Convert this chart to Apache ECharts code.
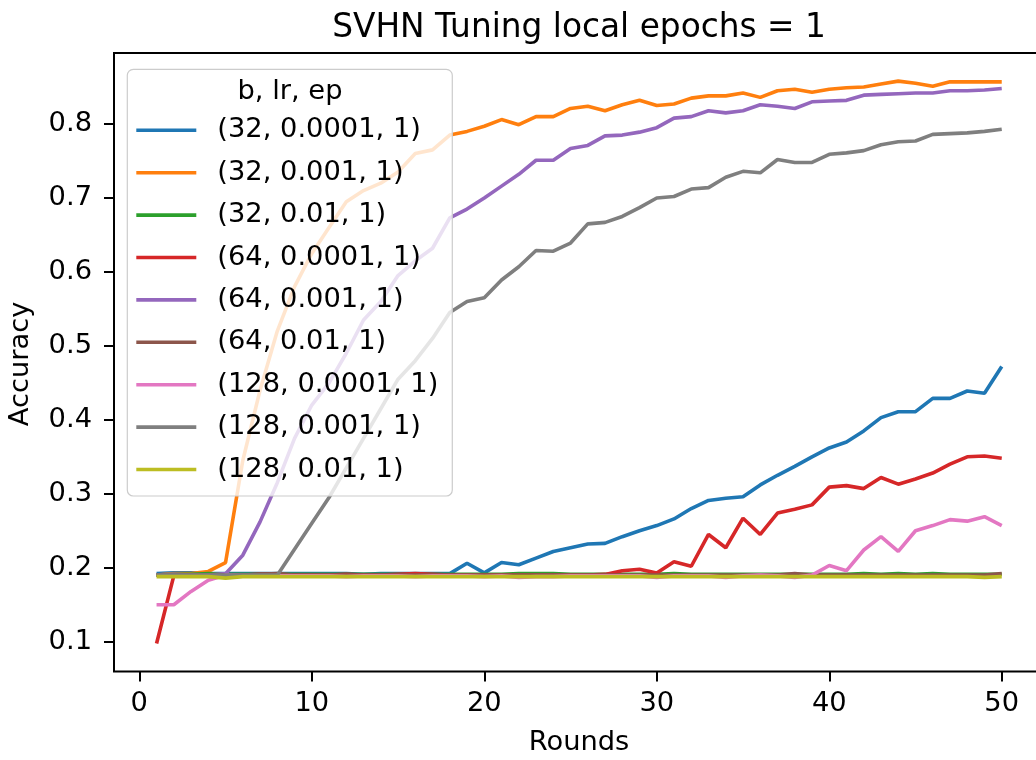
<!DOCTYPE html>
<html>
<head>
<meta charset="utf-8">
<title>SVHN Tuning local epochs = 1</title>
<script src="https://cdn.jsdelivr.net/npm/echarts@6/dist/echarts.min.js"></script>
<style>
  html, body { margin: 0; padding: 0; background: #ffffff; }
  #chart { width: 1036px; height: 760px; }
</style>
</head>
<body>
<div id="chart"></div>
<script>
// Communication rounds on the x axis
const rounds = [1, 2, 3, 4, 5, 6, 7, 8, 9, 10, 11, 12, 13, 14, 15, 16, 17, 18, 19, 20,
  21, 22, 23, 24, 25, 26, 27, 28, 29, 30, 31, 32, 33, 34, 35, 36, 37, 38, 39, 40,
  41, 42, 43, 44, 45, 46, 47, 48, 49, 50];

// Test accuracy per configuration (batch size, learning rate, local epochs)
const acc_32_00001 = [0.192, 0.193, 0.193, 0.192, 0.192, 0.192, 0.192, 0.192, 0.192, 0.192,
  0.192, 0.192, 0.191, 0.192, 0.192, 0.192, 0.192, 0.192, 0.206, 0.193,
  0.207, 0.204, 0.213, 0.222, 0.227, 0.232, 0.233, 0.242, 0.250, 0.257,
  0.266, 0.280, 0.291, 0.294, 0.296, 0.312, 0.325, 0.337, 0.350, 0.362,
  0.370, 0.385, 0.403, 0.411, 0.411, 0.429, 0.429, 0.439, 0.436, 0.472];
const acc_32_0001 = [0.190, 0.192, 0.192, 0.195, 0.207, 0.345, 0.440, 0.520, 0.580, 0.625,
  0.660, 0.695, 0.710, 0.720, 0.735, 0.760, 0.765, 0.785, 0.790, 0.797,
  0.806, 0.799, 0.810, 0.810, 0.821, 0.824, 0.818, 0.826, 0.832, 0.825,
  0.827, 0.835, 0.838, 0.838, 0.842, 0.836, 0.845, 0.847, 0.843, 0.847,
  0.849, 0.850, 0.854, 0.858, 0.855, 0.851, 0.857, 0.857, 0.857, 0.857];
const acc_32_001 = [0.190, 0.191, 0.191, 0.192, 0.191, 0.191, 0.191, 0.191, 0.191, 0.191,
  0.191, 0.191, 0.191, 0.191, 0.191, 0.191, 0.191, 0.191, 0.191, 0.191,
  0.191, 0.192, 0.192, 0.192, 0.191, 0.191, 0.191, 0.191, 0.191, 0.191,
  0.192, 0.191, 0.191, 0.191, 0.191, 0.191, 0.191, 0.191, 0.191, 0.191,
  0.191, 0.192, 0.191, 0.192, 0.191, 0.192, 0.191, 0.191, 0.191, 0.191];
const acc_64_00001 = [0.0975, 0.189, 0.190, 0.190, 0.190, 0.190, 0.191, 0.191, 0.190, 0.190,
  0.190, 0.191, 0.190, 0.190, 0.191, 0.192, 0.191, 0.190, 0.190, 0.190,
  0.190, 0.190, 0.190, 0.190, 0.190, 0.190, 0.191, 0.196, 0.198, 0.193,
  0.208, 0.202, 0.245, 0.227, 0.267, 0.245, 0.274, 0.279, 0.285, 0.309,
  0.311, 0.307, 0.322, 0.313, 0.320, 0.328, 0.340, 0.350, 0.351, 0.348];
const acc_64_0001 = [0.190, 0.191, 0.190, 0.190, 0.192, 0.217, 0.262, 0.315, 0.375, 0.420,
  0.450, 0.490, 0.535, 0.560, 0.595, 0.615, 0.632, 0.673, 0.685, 0.700,
  0.716, 0.732, 0.751, 0.751, 0.767, 0.771, 0.784, 0.785, 0.789, 0.795,
  0.808, 0.810, 0.818, 0.815, 0.818, 0.826, 0.824, 0.821, 0.830, 0.831,
  0.832, 0.839, 0.840, 0.841, 0.842, 0.842, 0.845, 0.845, 0.846, 0.848];
const acc_64_001 = [0.190, 0.190, 0.190, 0.190, 0.190, 0.190, 0.191, 0.192, 0.190, 0.190,
  0.190, 0.190, 0.190, 0.190, 0.190, 0.190, 0.190, 0.190, 0.190, 0.190,
  0.190, 0.190, 0.190, 0.190, 0.190, 0.190, 0.190, 0.190, 0.190, 0.190,
  0.190, 0.190, 0.190, 0.190, 0.190, 0.190, 0.190, 0.192, 0.190, 0.190,
  0.190, 0.190, 0.190, 0.190, 0.190, 0.190, 0.190, 0.190, 0.190, 0.192];
const acc_128_00001 = [0.150, 0.150, 0.168, 0.183, 0.190, 0.189, 0.189, 0.189, 0.189, 0.189,
  0.189, 0.188, 0.189, 0.189, 0.189, 0.188, 0.189, 0.189, 0.189, 0.188,
  0.189, 0.187, 0.188, 0.188, 0.189, 0.189, 0.189, 0.189, 0.189, 0.187,
  0.189, 0.189, 0.189, 0.187, 0.189, 0.190, 0.189, 0.187, 0.190, 0.203,
  0.196, 0.224, 0.242, 0.222, 0.250, 0.257, 0.265, 0.263, 0.269, 0.257];
const acc_128_0001 = [0.190, 0.190, 0.190, 0.190, 0.190, 0.190, 0.190, 0.190, 0.225, 0.260,
  0.295, 0.335, 0.375, 0.415, 0.455, 0.480, 0.510, 0.545, 0.560, 0.565,
  0.589, 0.607, 0.629, 0.628, 0.639, 0.665, 0.667, 0.675, 0.687, 0.700,
  0.702, 0.712, 0.714, 0.728, 0.736, 0.734, 0.752, 0.748, 0.748, 0.759,
  0.761, 0.764, 0.772, 0.776, 0.777, 0.786, 0.787, 0.788, 0.790, 0.793];
const acc_128_001 = [0.188, 0.188, 0.188, 0.188, 0.186, 0.188, 0.188, 0.188, 0.188, 0.188,
  0.188, 0.188, 0.188, 0.188, 0.188, 0.188, 0.188, 0.188, 0.188, 0.188,
  0.188, 0.188, 0.188, 0.188, 0.188, 0.188, 0.188, 0.188, 0.188, 0.188,
  0.188, 0.188, 0.188, 0.188, 0.188, 0.188, 0.188, 0.188, 0.188, 0.188,
  0.188, 0.188, 0.188, 0.188, 0.188, 0.188, 0.188, 0.188, 0.187, 0.188];

const seriesNames = ['(32, 0.0001, 1)', '(32, 0.001, 1)', '(32, 0.01, 1)',
  '(64, 0.0001, 1)', '(64, 0.001, 1)', '(64, 0.01, 1)',
  '(128, 0.0001, 1)', '(128, 0.001, 1)', '(128, 0.01, 1)'];
const seriesValues = [acc_32_00001, acc_32_0001, acc_32_001,
  acc_64_00001, acc_64_0001, acc_64_001,
  acc_128_00001, acc_128_0001, acc_128_001];
const palette = ['#1f77b4', '#ff7f0e', '#2ca02c', '#d62728', '#9467bd',
  '#8c564b', '#e377c2', '#7f7f7f', '#bcbd22'];

const xTicks = [0, 10, 20, 30, 40, 50];
const yTicks = [0.1, 0.2, 0.3, 0.4, 0.5, 0.6, 0.7, 0.8];

const FONT = 'DejaVu Sans';
const TICK_SIZE = 27.3;

const chart = echarts.init(document.getElementById('chart'), null, { renderer: 'canvas' });

const series = seriesNames.map((name, k) => ({
  name: name,
  type: 'line',
  data: rounds.map((r, i) => [r, seriesValues[k][i]]),
  showSymbol: false,
  symbol: 'none',
  clip: true,
  lineStyle: { color: palette[k], width: 3.6 },
  itemStyle: { color: palette[k] },
  emphasis: { disabled: true },
  animation: false
}));

const option = {
  animation: false,
  backgroundColor: '#ffffff',
  grid: {
    left: 114, top: 53, width: 930, height: 618.5,
    containLabel: false,
    outerBoundsMode: 'none',
    show: true, borderColor: '#000000', borderWidth: 2, backgroundColor: 'transparent'
  },
  xAxis: {
    type: 'value',
    min: -1.467, max: 52.45,
    axisLine: { show: false, onZero: false },
    splitLine: { show: false },
    axisTick: { show: true, length: 10, lineStyle: { color: '#000', width: 2 }, customValues: xTicks },
    axisLabel: { customValues: xTicks, margin: 19, color: '#000', fontFamily: FONT, fontSize: TICK_SIZE }
  },
  yAxis: {
    type: 'value',
    min: 0.0597, max: 0.896,
    axisLine: { show: false, onZero: false },
    splitLine: { show: false },
    axisTick: { show: true, length: 10, lineStyle: { color: '#000', width: 2 }, customValues: yTicks },
    axisLabel: {
      customValues: yTicks, margin: 22, color: '#000', fontFamily: FONT, fontSize: TICK_SIZE,
      formatter: v => v.toFixed(1)
    }
  },
  legend: {
    orient: 'vertical',
    left: 127.3, top: 69.3,
    padding: [47.5, 14, 13, 9],
    itemWidth: 60, itemHeight: 3.6, itemGap: 15.4,
    icon: 'rect',
    backgroundColor: 'rgba(255,255,255,0.8)',
    borderColor: '#cccccc', borderWidth: 1.2, borderRadius: 6,
    selectedMode: false,
    textStyle: { color: '#000', fontFamily: FONT, fontSize: TICK_SIZE, padding: [0, 0, 0, 16] },
    data: seriesNames
  },
  graphic: [
    { type: 'text', x: 579, y: 28, z: 100,
      style: { text: 'SVHN Tuning local epochs = 1', fill: '#000', font: '32.8px "DejaVu Sans"', textAlign: 'center', textVerticalAlign: 'middle' } },
    { type: 'text', x: 290, y: 92, z: 100,
      style: { text: 'b, lr, ep', fill: '#000', font: TICK_SIZE + 'px "DejaVu Sans"', textAlign: 'center', textVerticalAlign: 'middle' } },
    { type: 'text', x: 579, y: 743, z: 100,
      style: { text: 'Rounds', fill: '#000', font: TICK_SIZE + 'px "DejaVu Sans"', textAlign: 'center', textVerticalAlign: 'middle' } },
    { type: 'text', x: 21, y: 364, z: 100, rotation: Math.PI / 2,
      style: { text: 'Accuracy', fill: '#000', font: TICK_SIZE + 'px "DejaVu Sans"', textAlign: 'center', textVerticalAlign: 'middle' } }
  ],
  series: series
};

chart.setOption(option);
</script>
</body>
</html>
